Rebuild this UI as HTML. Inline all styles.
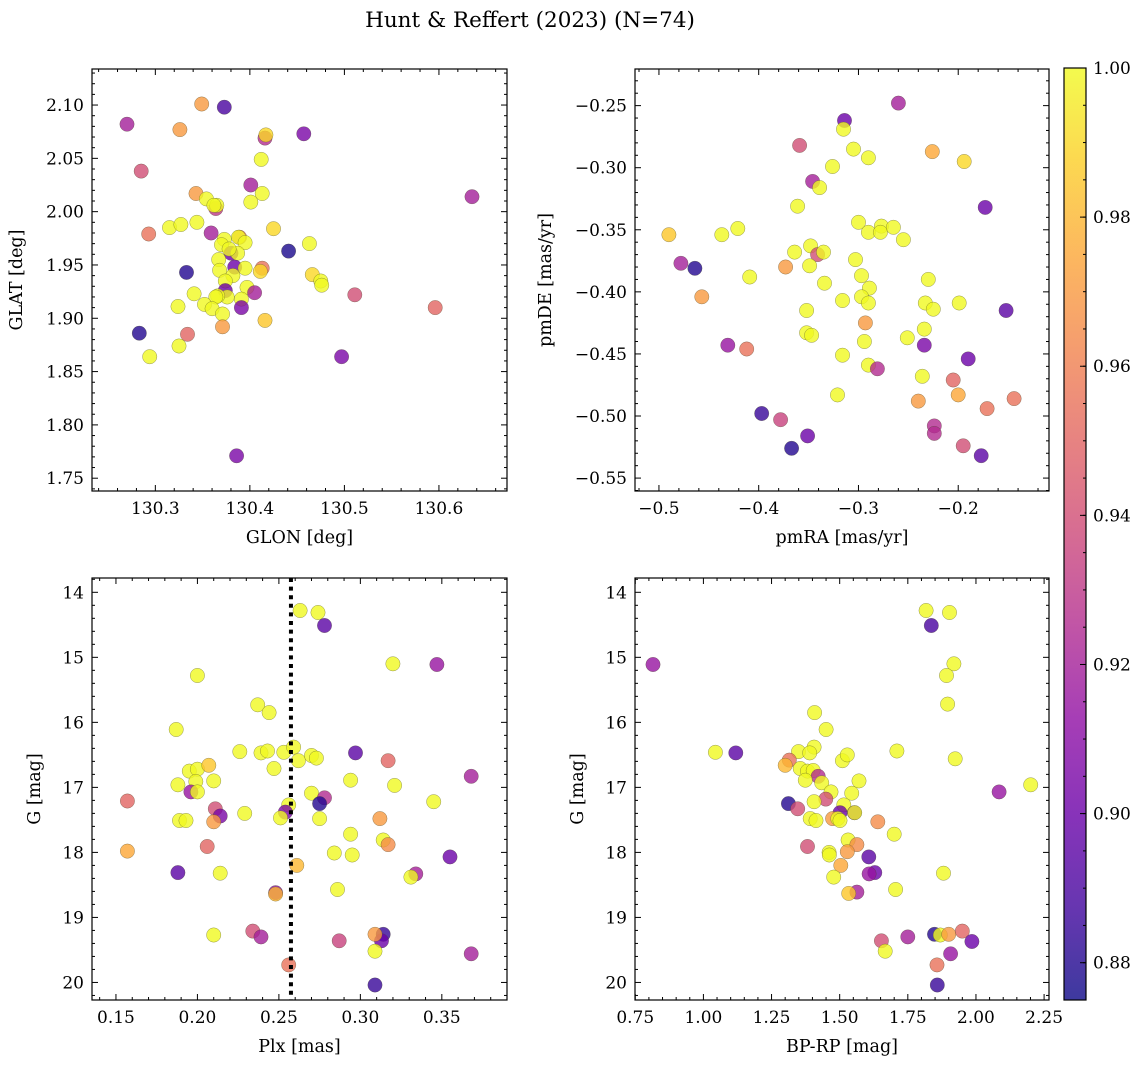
<!DOCTYPE html>
<html><head><meta charset="utf-8"><style>
html,body{margin:0;padding:0;background:#fff;}
svg{display:block;font-family:"DejaVu Serif","Liberation Serif",serif;}
</style></head><body>
<svg id="fig" width="1148" height="1068" viewBox="0 0 1148 1068">
<defs><linearGradient id="cbgrad" x1="0" y1="1" x2="0" y2="0"></linearGradient></defs>
<text x="530" y="27" font-size="21.5" text-anchor="middle">Hunt &amp; Reffert (2023) (N=74)</text>
</svg>
<script>
// Panel 1: GLON vs GLAT
const glon=[130.270,130.349,130.373,130.326,130.457,130.416,130.417,130.412,130.285,130.401,130.343,130.354,130.413,130.401,130.364,130.365,130.362,130.635,130.315,130.327,130.344,130.293,130.359,130.425,130.373,130.389,130.388,130.395,130.370,130.380,130.387,130.378,130.463,130.441,130.367,130.333,130.384,130.395,130.368,130.413,130.411,130.382,130.374,130.466,130.475,130.476,130.397,130.405,130.374,130.341,130.376,130.366,130.364,130.391,130.391,130.352,130.360,130.324,130.371,130.416,130.511,130.596,130.371,130.283,130.334,130.325,130.294,130.497,130.386];
const glat=[2.082,2.101,2.098,2.077,2.073,2.069,2.072,2.049,2.038,2.025,2.017,2.012,2.017,2.009,2.003,2.006,2.006,2.014,1.985,1.988,1.990,1.979,1.980,1.984,1.974,1.976,1.976,1.971,1.969,1.961,1.961,1.965,1.970,1.963,1.955,1.943,1.948,1.947,1.945,1.947,1.944,1.940,1.935,1.941,1.935,1.931,1.929,1.924,1.926,1.923,1.920,1.921,1.920,1.918,1.910,1.913,1.909,1.911,1.904,1.898,1.922,1.910,1.892,1.886,1.885,1.874,1.864,1.864,1.771];
const prob1=[0.92,0.97,0.89,0.97,0.905,0.925,0.99,1,0.94,0.92,0.97,1,1,1,0.93,1,1,0.92,1,1,1,0.955,0.92,0.99,1,0.96,1,1,1,0.9,1,1,1,0.878,1,0.88,0.9,1,1,0.955,0.99,1,1,0.99,1,1,1,0.92,0.9,1,1,1,1,1,0.905,1,1,1,1,0.985,0.94,0.95,0.97,0.88,0.95,1,1,0.905,0.905];
// Panel 2: pmRA vs pmDE
const pmra=[-0.260,-0.314,-0.315,-0.359,-0.305,-0.290,-0.226,-0.194,-0.326,-0.346,-0.339,-0.173,-0.361,-0.490,-0.437,-0.421,-0.300,-0.290,-0.277,-0.278,-0.265,-0.255,-0.364,-0.348,-0.341,-0.335,-0.478,-0.464,-0.373,-0.349,-0.303,-0.409,-0.457,-0.334,-0.297,-0.289,-0.297,-0.290,-0.316,-0.230,-0.233,-0.225,-0.199,-0.152,-0.352,-0.293,-0.352,-0.347,-0.294,-0.234,-0.251,-0.431,-0.412,-0.234,-0.316,-0.190,-0.290,-0.281,-0.236,-0.205,-0.321,-0.240,-0.200,-0.171,-0.144,-0.397,-0.378,-0.351,-0.367,-0.224,-0.224,-0.195,-0.177];
const pmde=[-0.248,-0.262,-0.269,-0.282,-0.285,-0.292,-0.287,-0.295,-0.299,-0.311,-0.316,-0.332,-0.331,-0.354,-0.354,-0.349,-0.344,-0.352,-0.347,-0.352,-0.348,-0.358,-0.368,-0.363,-0.370,-0.368,-0.377,-0.381,-0.380,-0.379,-0.374,-0.388,-0.404,-0.393,-0.387,-0.397,-0.404,-0.409,-0.407,-0.390,-0.409,-0.414,-0.409,-0.415,-0.415,-0.425,-0.433,-0.435,-0.440,-0.430,-0.437,-0.443,-0.446,-0.443,-0.451,-0.454,-0.459,-0.462,-0.468,-0.471,-0.483,-0.488,-0.483,-0.494,-0.486,-0.498,-0.503,-0.516,-0.526,-0.508,-0.514,-0.524,-0.532];
const prob2=[0.92,0.9,1,0.94,1,1,0.975,0.99,1,0.92,1,0.9,1,0.985,1,1,1,1,1,1,1,1,1,1,0.94,1,0.92,0.88,0.97,1,1,1,0.97,1,1,1,1,1,1,1,1,1,1,0.895,1,0.97,1,1,1,1,1,0.915,0.955,0.905,1,0.9,1,0.925,1,0.95,1,0.97,0.975,0.955,0.955,0.885,0.935,0.9,0.88,0.925,0.925,0.94,0.895];
// Panel 3: Plx vs G
const plx=[0.263,0.274,0.278,0.320,0.347,0.200,0.237,0.244,0.187,0.226,0.239,0.243,0.253,0.259,0.262,0.270,0.273,0.297,0.317,0.368,0.247,0.195,0.200,0.207,0.188,0.199,0.210,0.196,0.200,0.294,0.321,0.157,0.270,0.278,0.275,0.345,0.256,0.254,0.251,0.211,0.214,0.210,0.189,0.193,0.229,0.275,0.312,0.294,0.314,0.317,0.284,0.295,0.157,0.206,0.355,0.261,0.188,0.214,0.334,0.331,0.248,0.248,0.286,0.210,0.234,0.239,0.287,0.314,0.313,0.309,0.309,0.368,0.256,0.309];
const gmag3=[14.28,14.31,14.51,15.10,15.11,15.28,15.73,15.85,16.11,16.45,16.47,16.44,16.46,16.38,16.59,16.51,16.55,16.47,16.59,16.83,16.71,16.75,16.72,16.66,16.96,16.91,16.90,17.07,17.07,16.89,16.97,17.21,17.09,17.16,17.25,17.22,17.27,17.38,17.47,17.33,17.44,17.53,17.51,17.51,17.40,17.48,17.48,17.72,17.81,17.88,18.01,18.04,17.98,17.91,18.07,18.20,18.31,18.32,18.33,18.38,18.62,18.64,18.57,19.27,19.21,19.30,19.36,19.26,19.36,19.26,19.52,19.56,19.73,20.04];
const prob3=[1,1,0.895,1,0.915,1,1,1,1,1,1,1,1,1,1,1,1,0.895,0.95,0.92,1,1,1,0.985,1,1,1,0.915,1,1,1,0.95,1,0.925,0.88,1,1,0.905,1,0.94,0.905,0.97,1,1,1,1,0.97,1,1,0.965,1,1,0.975,0.95,0.9,0.98,0.895,1,0.92,1,0.91,0.98,1,1,0.94,0.92,0.935,0.885,0.9,0.97,1,0.92,0.955,0.885];
const plxLine=[0.2574];
// Panel 4: BP-RP vs G
const bprp=[1.817,1.903,1.836,0.815,1.919,1.892,1.896,1.408,1.450,1.044,1.119,1.349,1.406,1.390,1.315,1.300,1.355,1.382,1.403,1.421,1.510,1.528,1.710,1.924,2.201,2.085,1.374,1.434,1.468,1.449,1.406,1.571,1.544,1.312,1.346,1.515,1.501,1.554,1.555,1.392,1.413,1.474,1.493,1.501,1.640,1.700,1.382,1.531,1.563,1.528,1.461,1.462,1.607,1.504,1.629,1.608,1.881,1.478,1.563,1.533,1.705,1.848,1.869,1.900,1.950,1.985,1.907,1.750,1.653,1.667,1.857,1.858];
const gmag4=[14.28,14.31,14.51,15.11,15.10,15.28,15.72,15.85,16.11,16.46,16.47,16.45,16.38,16.47,16.58,16.66,16.71,16.75,16.74,16.83,16.59,16.50,16.44,16.56,16.96,17.07,16.89,16.93,17.07,17.18,17.22,16.90,17.09,17.25,17.33,17.27,17.39,17.39,17.39,17.48,17.51,17.48,17.48,17.51,17.53,17.72,17.91,17.81,17.88,17.99,18.00,18.04,18.07,18.20,18.31,18.33,18.32,18.38,18.61,18.63,18.57,19.26,19.27,19.26,19.21,19.37,19.56,19.30,19.36,19.52,19.73,20.04];
const prob4=[1,1,0.89,0.915,1,1,1,1,1,1,0.895,1,1,1,0.955,0.98,1,1,1,0.925,1,1,1,1,1,0.915,1,1,1,0.94,1,1,1,0.88,0.94,1,0.9,0.9,1,1,1,0.97,1,1,0.965,1,0.94,1,0.965,0.97,1,1,0.895,0.975,0.9,0.915,1,1,0.92,0.985,1,0.88,1,0.97,0.95,0.9,0.915,0.92,0.94,1,0.955,0.885];
const cbTicks=[0.88,0.90,0.92,0.94,0.96,0.98,1.00];

const NS="http://www.w3.org/2000/svg";
const svg=document.getElementById('fig');
const VMIN=0.875,VMAX=1.0;
const stops=[[13,8,135],[65,4,157],[106,0,168],[143,13,164],[177,42,144],[204,71,120],[225,100,98],[242,132,75],[252,166,54],[252,206,37],[240,249,33]];
function plasma(t){t=Math.max(0,Math.min(1,t));const f=t*10;const i=Math.min(9,Math.floor(f));const r=f-i;const a=stops[i],b=stops[i+1];return 'rgb('+a.map((v,k)=>Math.round(v+(b[k]-v)*r)).join(',')+')';}
function el(tag,attrs,parent){const e=document.createElementNS(NS,tag);for(const k in attrs)e.setAttribute(k,attrs[k]);(parent||svg).appendChild(e);return e;}
function fmt(v,d){return v.toFixed(d).replace('-','\u2212');}
const TF=17;

function panel(o){
  const g=el('g',{});
  
  
  const sx=v=>o.x0+(v-o.xmin)/(o.xmax-o.xmin)*(o.x1-o.x0);
  const sy=v=>o.inv? o.y0+(v-o.ymin)/(o.ymax-o.ymin)*(o.y1-o.y0) : o.y1-(v-o.ymin)/(o.ymax-o.ymin)*(o.y1-o.y0);
  for(let i=0;i<o.xs.length;i++){
    const c=el('circle',{cx:sx(o.xs[i]).toFixed(1),cy:sy(o.ys[i]).toFixed(1),r:7.2,fill:plasma((o.ps[i]-VMIN)/(VMAX-VMIN)),'fill-opacity':0.8,stroke:'rgba(70,70,40,0.55)','stroke-width':0.5},g);
    
    
  }
  if(o.vline){const l=el('line',{x1:sx(o.vline),x2:sx(o.vline),y1:o.y0,y2:o.y1,stroke:'#000','stroke-width':4,'stroke-dasharray':'4,4.6'},g);
    
    }
  const fr=el('rect',{x:o.x0,y:o.y0,width:o.x1-o.x0,height:o.y1-o.y0,fill:'none',stroke:'#000','stroke-width':1.2},g);
  
  
  const eps=1e-9;
  for(let v=Math.ceil((o.xmin)/o.xminor-eps)*o.xminor; v<=o.xmax+eps; v+=o.xminor){
    const X=sx(v); const major=Math.abs(v/o.xmajor-Math.round(v/o.xmajor))<1e-6; const L=major?6:3;
    el('line',{x1:X,x2:X,y1:o.y1,y2:o.y1-L,stroke:'#000','stroke-width':1},g);
    el('line',{x1:X,x2:X,y1:o.y0,y2:o.y0+L,stroke:'#000','stroke-width':1},g);
    if(major){const t=el('text',{x:X,y:o.y1+23,'font-size':TF,'text-anchor':'middle'},g);t.textContent=fmt(Math.round(v/o.xmajor)*o.xmajor,o.xd);
      
      }
  }
  for(let v=Math.ceil((o.ymin)/o.yminor-eps)*o.yminor; v<=o.ymax+eps; v+=o.yminor){
    const Y=sy(v); const major=Math.abs(v/o.ymajor-Math.round(v/o.ymajor))<1e-6; const L=major?6:3;
    el('line',{x1:o.x0,x2:o.x0+L,y1:Y,y2:Y,stroke:'#000','stroke-width':1},g);
    el('line',{x1:o.x1,x2:o.x1-L,y1:Y,y2:Y,stroke:'#000','stroke-width':1},g);
    if(major){const t=el('text',{x:o.x0-8,y:Y+6,'font-size':TF,'text-anchor':'end'},g);t.textContent=fmt(Math.round(v/o.ymajor)*o.ymajor,o.yd);
      
      }
  }
  const xl=el('text',{x:(o.x0+o.x1)/2,y:o.y1+52,'font-size':17.5,'text-anchor':'middle'},g);xl.textContent=o.xlabel;
  
  
  const yx=o.ylx, yc=(o.y0+o.y1)/2;
  const yl=el('text',{x:yx,y:yc,'font-size':17.5,'text-anchor':'middle',transform:'rotate(-90 '+yx+' '+yc+')'},g);yl.textContent=o.ylabel;
  
  
}
panel({name:'glon-glat-panel',x0:92,x1:507,y0:69,y1:491,xmin:130.233,xmax:130.672,ymin:1.738,ymax:2.1338,xs:glon,ys:glat,ps:prob1,xmajor:0.1,xminor:0.02,ymajor:0.05,yminor:0.01,xd:1,yd:2,xlabel:'GLON [deg]',ylabel:'GLAT [deg]',ylx:22});
panel({name:'proper-motion-panel',x0:635,x1:1049,y0:69,y1:491,xmin:-0.524,xmax:-0.109,ymin:-0.5604,ymax:-0.2205,xs:pmra,ys:pmde,ps:prob2,xmajor:0.1,xminor:0.02,ymajor:0.05,yminor:0.01,xd:1,yd:2,xlabel:'pmRA [mas/yr]',ylabel:'pmDE [mas/yr]',ylx:551});
panel({name:'parallax-mag-panel',x0:92,x1:507,y0:578,y1:1000,xmin:0.1353,xmax:0.390,ymin:13.78,ymax:20.27,inv:true,xs:plx,ys:gmag3,ps:prob3,xmajor:0.05,xminor:0.01,ymajor:1,yminor:0.2,xd:2,yd:0,xlabel:'Plx [mas]',ylabel:'G [mag]',ylx:40,vline:plxLine[0]});
panel({name:'cmd-panel',x0:635,x1:1049,y0:578,y1:1000,xmin:0.749,xmax:2.268,ymin:13.78,ymax:20.27,inv:true,xs:bprp,ys:gmag4,ps:prob4,xmajor:0.25,xminor:0.05,ymajor:1,yminor:0.2,xd:2,yd:0,xlabel:'BP-RP [mag]',ylabel:'G [mag]',ylx:583});

// colorbar
const grad=document.getElementById('cbgrad');
for(let i=0;i<=20;i++){el('stop',{offset:(i/20),'stop-color':plasma(i/20)},grad);}
const cb=el('g',{});


const CX0=1064,CX1=1086,CY0=68,CY1=1000;
const cy=v=>CY1-(v-VMIN)/(VMAX-VMIN)*(CY1-CY0);
el('rect',{x:CX0,y:CY0,width:CX1-CX0,height:CY1-CY0,fill:'url(#cbgrad)','fill-opacity':0.8},cb);
el('rect',{x:CX0,y:CY0,width:CX1-CX0,height:CY1-CY0,fill:'none',stroke:'#000','stroke-width':1.2},cb);
for(let v=0.875; v<=1.0001; v+=0.005){el('line',{x1:CX1,x2:CX1-3,y1:cy(v),y2:cy(v),stroke:'#000'},cb);}
for(const v of cbTicks){el('line',{x1:CX1,x2:CX1-6,y1:cy(v),y2:cy(v),stroke:'#000'},cb);
  const t=el('text',{x:CX1+7,y:cy(v)+6,'font-size':TF},cb);t.textContent=v.toFixed(2);
  
  }
</script>
</body></html>
